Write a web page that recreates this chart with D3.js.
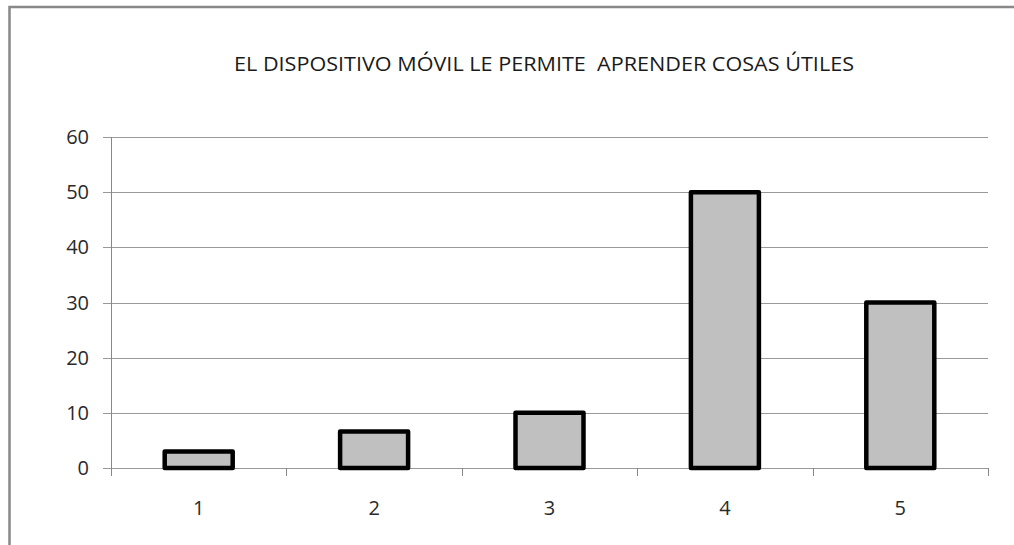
<!DOCTYPE html>
<html>
<head>
<meta charset="utf-8">
<script src="https://cdn.jsdelivr.net/npm/d3@7"></script>
<style>
  html, body { margin: 0; padding: 0; background: #fff; }
  svg { display: block; }
</style>
</head>
<body>
<svg id="chart" width="1014" height="545"></svg>
<script>
  const title = "EL DISPOSITIVO MÓVIL LE PERMITE  APRENDER COSAS ÚTILES";
  const categories = ["1", "2", "3", "4", "5"];
  const values = [3, 6.6, 10, 50, 30];
  const yTicks = [0, 10, 20, 30, 40, 50, 60];

  (() => {
    const svg = d3.select("#chart");
    const font = "'Open Sans', 'Liberation Sans', sans-serif";

    // outer frame (only the left and top edges show in the picture)
    svg.append("path")
      .attr("d", "M9.5,545 L9.5,7 L1014,7")
      .attr("fill", "none")
      .attr("stroke", "#888")
      .attr("stroke-width", 2.5);

    const plotL = 111, plotR = 988, plotT = 137, plotB = 468;

    const x = d3.scaleBand().domain(categories).range([plotL, plotR]).padding(0);
    const y = d3.scaleLinear().domain([0, 60]).range([plotB, plotT]);

    svg.append("text")
      .attr("x", 544)
      .attr("y", 71)
      .attr("text-anchor", "middle")
      .attr("font-family", font)
      .attr("font-size", 19.5)
      .attr("fill", "#1a1a1a")
      .attr("textLength", 620)
      .attr("lengthAdjust", "spacingAndGlyphs")
      .style("white-space", "pre")
      .text(title);

    // gridlines
    svg.append("g")
      .selectAll("line")
      .data(yTicks)
      .join("line")
      .attr("x1", plotL - 8)
      .attr("x2", plotR)
      .attr("y1", (d) => Math.round(y(d)) + 0.5)
      .attr("y2", (d) => Math.round(y(d)) + 0.5)
      .attr("stroke", "#999")
      .attr("stroke-width", 1);

    // y axis line
    svg.append("line")
      .attr("x1", plotL + 0.5).attr("x2", plotL + 0.5)
      .attr("y1", plotT).attr("y2", plotB + 1)
      .attr("stroke", "#888");

    svg.append("g")
      .selectAll("text")
      .data(yTicks)
      .join("text")
      .attr("x", 89)
      .attr("y", (d) => y(d) + 7)
      .attr("text-anchor", "end")
      .attr("font-family", font)
      .attr("font-size", 20)
      .attr("fill", "#2a2a2a")
      .text((d) => d);

    // x tick marks at band edges
    const edges = categories.map((c) => x(c)).concat([plotR]);
    svg.append("g")
      .selectAll("line")
      .data(edges)
      .join("line")
      .attr("x1", (d) => Math.round(d) + 0.5)
      .attr("x2", (d) => Math.round(d) + 0.5)
      .attr("y1", plotB)
      .attr("y2", plotB + 8)
      .attr("stroke", "#888");

    svg.append("g")
      .selectAll("text")
      .data(categories)
      .join("text")
      .attr("x", (d) => x(d) + x.bandwidth() / 2)
      .attr("y", 515)
      .attr("text-anchor", "middle")
      .attr("font-family", font)
      .attr("font-size", 20)
      .attr("fill", "#2a2a2a")
      .text((d) => d);

    const barW = 68;
    svg.append("g")
      .selectAll("rect")
      .data(values)
      .join("rect")
      .attr("x", (d, i) => x(categories[i]) + x.bandwidth() / 2 - barW / 2)
      .attr("y", (d) => y(d))
      .attr("width", barW)
      .attr("height", (d) => plotB - y(d))
      .attr("fill", "#c0c0c0")
      .attr("stroke", "#000")
      .attr("stroke-width", 4.5)
      .attr("stroke-linejoin", "round");
  })();
</script>
</body>
</html>
